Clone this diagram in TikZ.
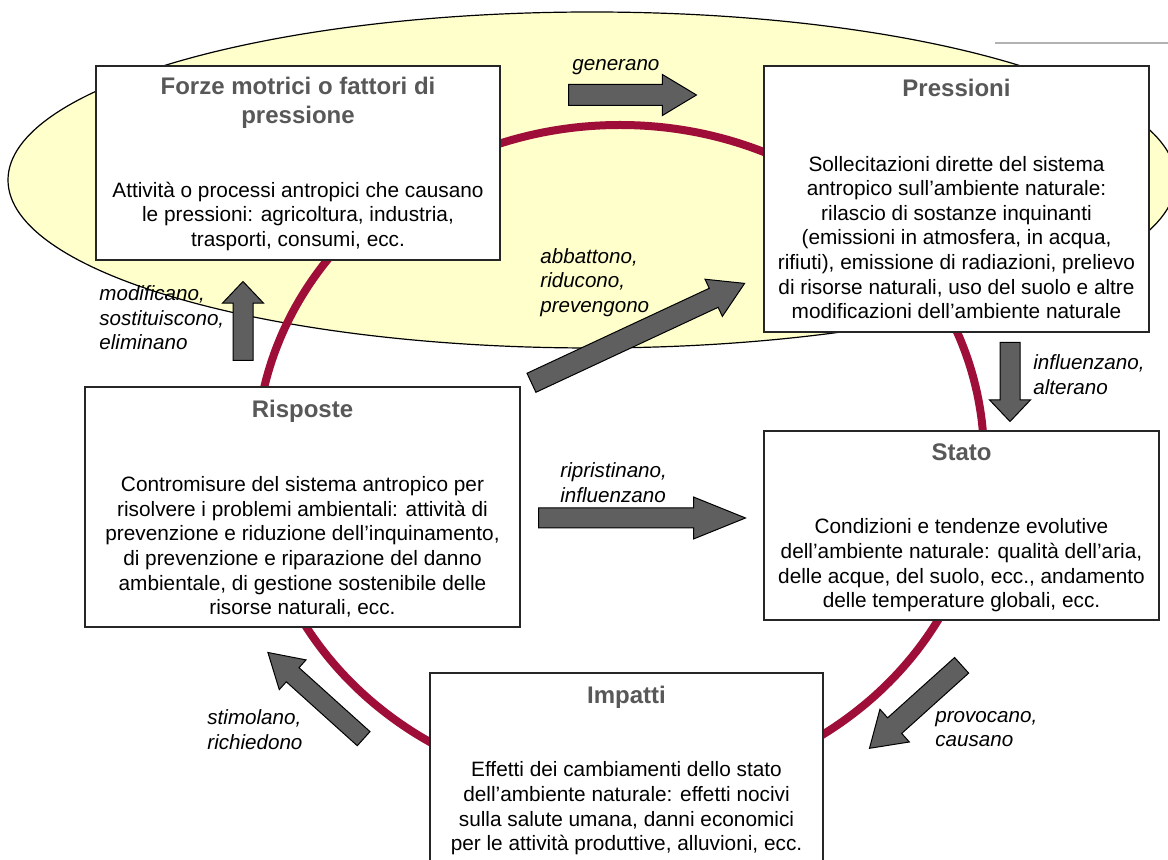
\documentclass[tikz,border=0pt]{standalone}
\usepackage{fontspec}
\setmainfont{Liberation Sans}
\usepackage{xcolor}
\usetikzlibrary{calc}
\usetikzlibrary{shapes.arrows}

\definecolor{giallino}{RGB}{255,255,204}
\definecolor{bordeaux}{RGB}{158,14,56}
\definecolor{grigiofreccia}{RGB}{95,95,95}
\definecolor{grigiotitolo}{RGB}{88,88,88}

\tikzset{
  riquadro/.style={draw=black!85, fill=white, line width=0.6pt, inner sep=0pt},
  titolo/.style={align=center, text=grigiotitolo, inner sep=0pt,
    font=\fontsize{12pt}{14.5pt}\selectfont\bfseries},
  testo/.style={align=center, inner sep=0pt, font=\fontsize{10.4pt}{12.3pt}\selectfont},
  etichetta/.style={align=left, anchor=west, inner sep=0pt,
    font=\fontsize{10.3pt}{12.3pt}\selectfont\itshape},
  freccia/.style={single arrow, draw=black, fill=grigiofreccia, line width=0.5pt,
    inner xsep=0pt, inner ysep=5pt, single arrow head indent=0pt},
  anello/.style={draw=bordeaux, line width=4pt}
}

\begin{document}
\begin{tikzpicture}[x=0.5pt, y=-0.5pt, >=stealth]

\clip (0,0) rectangle (1168,860);
\fill[white] (0,0) rectangle (1168,860);

% ellisse gialla
\draw[fill=giallino, line width=0.6pt] (592,180) ellipse [x radius=584, y radius=168];
\draw[gray!60, line width=0.6pt] (995,43) -- (1168,43);

% anello DPSIR
\draw[anello] (620,458) ellipse [x radius=364, y radius=333];

\foreach \nome/\x/\y/\w/\h in {forze/298/163/202/97, pressioni/956.5/199/192.5/133,
    risposte/302.5/507/217.5/120, stato/961.5/525.5/197.5/94.5, impatti/626.5/769.5/196.5/96.5}
  \node[riquadro, minimum width=\w*1pt, minimum height=\h*1pt] (\nome) at (\x,\y) {};

\foreach \nome/\x/\y/\t in {forze/298/102.5/{Forze motrici o fattori di\\pressione},
    pressioni/956.5/88/{Pressioni}, risposte/302.5/411/{Risposte},
    stato/961.5/452/{Stato}, impatti/626.5/697/{Impatti}} % titoli
  \node[titolo] (\nome-t) at (\x,\y) {\t};

\node[testo] (forze-d) at (298,216.5)
  {Attività o processi antropici che causano\\le pressioni: agricoltura, industria,\\trasporti, consumi, ecc.};
\node[testo] (pressioni-d) at (956.5,237.5)
  {Sollecitazioni dirette del sistema\\antropico sull'ambiente naturale:\\rilascio di sostanze inquinanti\\(emissioni in atmosfera, in acqua,\\rifiuti), emissione di radiazioni, prelievo\\di risorse naturali, uso del suolo e altre\\modificazioni dell'ambiente naturale};
\node[testo] (risposte-d) at (302.5,547)
  {Contromisure del sistema antropico per\\risolvere i problemi ambientali: attività di\\prevenzione e riduzione dell'inquinamento,\\di prevenzione e riparazione del danno\\ambientale, di gestione sostenibile delle\\risorse naturali, ecc.};
\node[testo] (stato-d) at (961.5,565.5)
  {Condizioni e tendenze evolutive\\dell'ambiente naturale: qualità dell'aria,\\delle acque, del suolo, ecc., andamento\\delle temperature globali, ecc.};
\node[testo] (impatti-d) at (626.5,808.5)
  {Effetti dei cambiamenti dello stato\\dell'ambiente naturale: effetti nocivi\\sulla salute umana, danni economici\\per le attività produttive, alluvioni, ecc.};

% frecce grigie (coda, angolo, lunghezza, punta, mezzo fusto, sporgenza)
\foreach \nome/\x/\y/\a/\l/\t/\s/\e in {gen/568/95/0/64/62/5/5, abb/531/383/25/117.6/62/5/5,
    mod/243/361/90/39.5/87/4.75/5.25, infl/1010/342/-90/39.5/87/4.75/5.25,
    ripr/538/518/0/103.5/44/4.75/5.5, stim/364/739/138/64.4/62/4.5/5.25,
    prov/962/665/-138/62/66/5/5.75}
{
  \coordinate (\nome-coda) at (\x,\y);
  \node[freccia, rotate=\a, minimum height=\l*1pt, single arrow tip angle=\t,
    inner ysep=\s*1pt, single arrow head extend=\e*1pt,
    anchor=tail] (\nome) at (\nome-coda) {};
}

\foreach \nome/\x/\y/\t in {gen/572/67/{generano}, abb/540/282.5/{abbattono,\\riducono,\\prevengono},
    mod/99/318/{modificano,\\sostituiscono,\\eliminano}, infl/1033/374.5/{influenzano,\\alterano},
    ripr/560/482.5/{ripristinano,\\influenzano}, stim/207/729.5/{stimolano,\\richiedono},
    prov/935/729/{provocano,\\causano}} % etichette
  \node[etichetta] (\nome-e) at (\x,\y) {\t};

\end{tikzpicture}
\end{document}
